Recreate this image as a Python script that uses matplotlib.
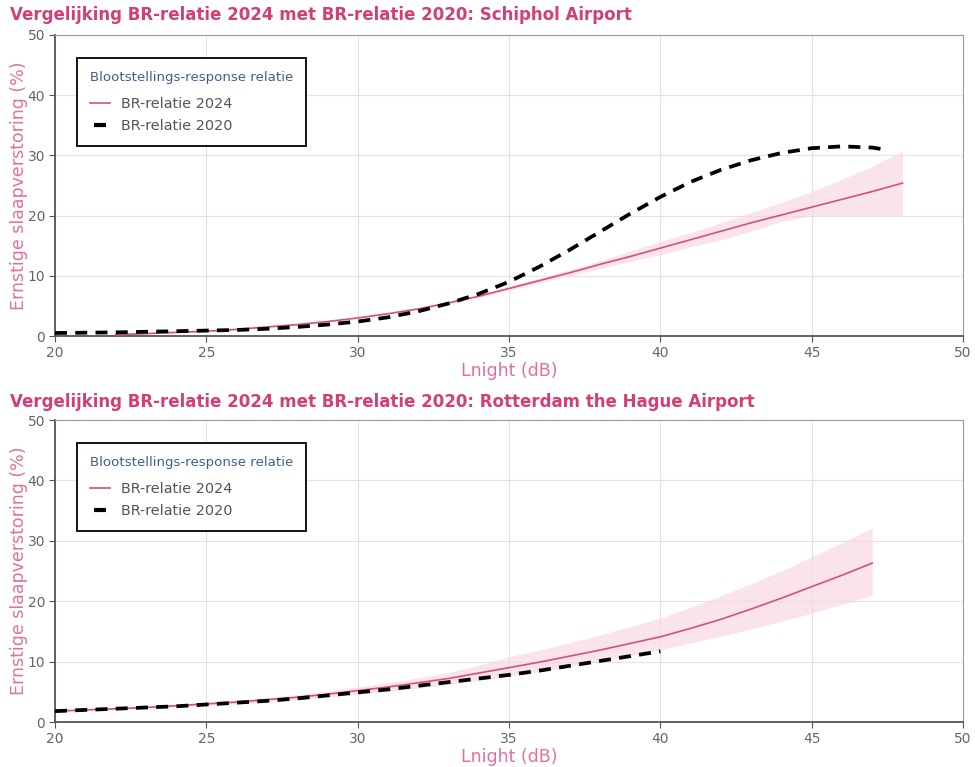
import numpy as np
import matplotlib
matplotlib.use('Agg')
import matplotlib.pyplot as plt
from matplotlib.lines import Line2D

# Schiphol
sch_x24 = [22, 23, 24, 25, 26, 27, 28, 29, 30, 31, 32, 33, 34, 35, 36, 37, 38, 39, 40, 41, 42, 43, 44, 45, 46, 47, 48]
sch_y24 = [0.2, 0.4, 0.6, 0.8, 1.1, 1.5, 1.9, 2.4, 3.0, 3.7, 4.5, 5.5, 6.6, 7.9, 9.2, 10.5, 11.9, 13.2, 14.6, 16.0, 17.4,
           18.8, 20.1, 21.4, 22.7, 24.0, 25.4]
sch_lo24 = [0.1, 0.3, 0.5, 0.7, 1.0, 1.4, 1.8, 2.3, 2.9, 3.6, 4.4, 5.3, 6.4, 7.6, 8.8, 10.0, 11.2, 12.4, 13.5, 14.8, 16.0,
            17.4, 19.0, 20.0, 20.0, 20.0, 20.0]
sch_hi24 = [0.3, 0.5, 0.7, 0.9, 1.2, 1.6, 2.0, 2.5, 3.1, 3.8, 4.6, 5.7, 6.8, 8.2, 9.6, 11.0, 12.5, 14.1, 15.7, 17.2, 18.8,
            20.5, 22.2, 24.0, 26.0, 28.2, 30.6]
sch_x20 = [20, 21, 22, 23, 24, 25, 26, 27, 28, 29, 30, 31, 32, 33, 34, 35, 36, 37, 38, 39, 40, 41, 42, 43, 44, 45, 46, 47, 47.5]
sch_y20 = [0.5, 0.55, 0.6, 0.7, 0.8, 0.9, 1.0, 1.2, 1.5, 1.9, 2.4, 3.1, 4.1, 5.4, 7.0, 9.0, 11.5, 14.3, 17.3, 20.3, 23.1,
           25.6, 27.6, 29.2, 30.4, 31.2, 31.5, 31.3, 30.9]

# Rotterdam the Hague
rth_x24 = [20, 21, 22, 23, 24, 25, 26, 27, 28, 29, 30, 31, 32, 33, 34, 35, 36, 37, 38, 39, 40, 41, 42, 43, 44, 45, 46, 47]
rth_y24 = [1.8, 2.0, 2.2, 2.4, 2.7, 3.0, 3.3, 3.7, 4.1, 4.6, 5.2, 5.8, 6.5, 7.2, 8.1, 9.0, 9.9, 10.9, 11.9, 13.0, 14.1,
           15.5, 17.0, 18.7, 20.5, 22.4, 24.3, 26.3]
rth_lo24 = [1.65, 1.85, 2.05, 2.25, 2.5, 2.75, 3.0, 3.35, 3.7, 4.1, 4.6, 5.1, 5.6, 6.2, 6.9, 7.6, 8.4, 9.2, 10.1, 11.0, 12.0,
            13.1, 14.2, 15.4, 16.7, 18.0, 19.5, 21.0]
rth_hi24 = [1.95, 2.15, 2.35, 2.6, 2.9, 3.25, 3.6, 4.05, 4.5, 5.1, 5.8, 6.5, 7.3, 8.2, 9.4, 10.8, 11.9, 13.1, 14.4, 15.8, 17.2,
            19.0, 20.9, 22.9, 25.0, 27.3, 29.7, 32.1]
rth_x20 = [20, 21, 22, 23, 24, 25, 26, 27, 28, 29, 30, 31, 32, 33, 34, 35, 36, 37, 38, 39, 40]
rth_y20 = [1.8, 2.0, 2.2, 2.4, 2.6, 2.9, 3.2, 3.5, 3.9, 4.4, 4.9, 5.4, 6.0, 6.6, 7.2, 7.8, 8.5, 9.3, 10.1, 10.9, 11.7]

titles = ['Vergelijking BR-relatie 2024 met BR-relatie 2020: Schiphol Airport',
          'Vergelijking BR-relatie 2024 met BR-relatie 2020: Rotterdam the Hague Airport']

pink = '#d4507e'
band = '#f8d8e3'
title_col = '#d23f76'
label_col = '#e46f9b'

fig = plt.figure(figsize=(9.75, 7.67), dpi=100)
W, H = 975, 767
boxes = [(55, 35, 963, 336), (55, 420, 963, 722)]
title_y = [15, 402]

panels = [(sch_x24, sch_y24, sch_lo24, sch_hi24, sch_x20, sch_y20),
          (rth_x24, rth_y24, rth_lo24, rth_hi24, rth_x20, rth_y20)]

for i, (x24, y24, lo24, hi24, x20, y20) in enumerate(panels):
    l, t, r, b = boxes[i]
    ax = fig.add_axes([l / W, 1 - b / H, (r - l) / W, (b - t) / H])
    ax.fill_between(x24, lo24, hi24, color=band, alpha=0.7, linewidth=0, zorder=2)
    ax.plot(x24, y24, color=pink, lw=1.2, zorder=3)
    ax.plot(x20, y20, color='black', lw=2.7, dashes=(3.2, 2.2), zorder=4)
    ax.set_xlim(20, 50)
    ax.set_ylim(0, 50)
    ax.set_xticks(range(20, 51, 5))
    ax.set_yticks(range(0, 51, 10))
    ax.grid(True, color='#e2e2e2', lw=0.8)
    ax.set_axisbelow(True)
    for s in ['top', 'right']:
        ax.spines[s].set_color('#9a9a9a')
    for s in ['left', 'bottom']:
        ax.spines[s].set_color('#555555')
        ax.spines[s].set_linewidth(1.3)
    ax.tick_params(colors='#555555', labelcolor='#666666', labelsize=10, length=4, pad=3)
    ax.set_xlabel('Lnight (dB)', color=label_col, fontsize=12.5, labelpad=2)
    ax.set_ylabel('Ernstige slaapverstoring (%)', color=label_col, fontsize=12.5, labelpad=-0.5)
    fig.text(10 / W, 1 - title_y[i] / H, titles[i], color=title_col, fontsize=12, fontweight='bold',
             ha='left', va='center')

    handles = [Line2D([0], [0], color=pink, lw=1.2),
               Line2D([0], [0], color='black', ls='none', marker='_', markersize=9, mew=3)]
    leg = ax.legend(handles, ['BR-relatie 2024', 'BR-relatie 2020'],
                    title='Blootstellings-response relatie', loc='upper left',
                    bbox_to_anchor=(0.0242, 0.9236), borderaxespad=0, fontsize=10.4, title_fontsize=9.6,
                    frameon=True, fancybox=False, edgecolor='black', framealpha=1,
                    handlelength=1.4, handletextpad=0.75, borderpad=0.9, labelspacing=0.53,
                    alignment='left', numpoints=1)
    leg._legend_box.sep = 9.5
    leg.get_frame().set_linewidth(1.3)
    leg.get_title().set_color('#3f5f8f')
    for txt in leg.get_texts():
        txt.set_color('#555555')

fig.savefig('out.png', dpi=100)
